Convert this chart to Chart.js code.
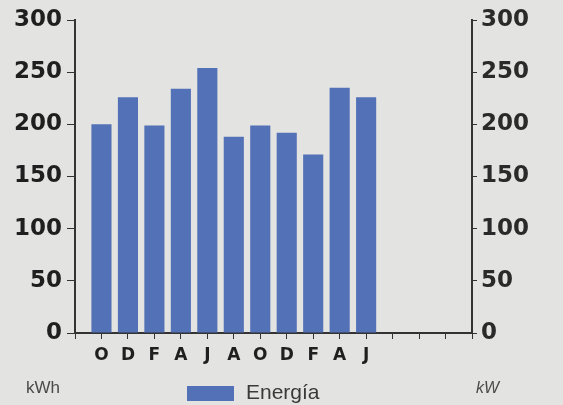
<!DOCTYPE html>
<html>
<head>
<meta charset="utf-8">
<script src="https://cdn.jsdelivr.net/npm/chart.js@4/dist/chart.umd.min.js"></script>
<style>
  html, body { margin: 0; padding: 0; background: #e3e3e1; }
  #wrap { position: relative; width: 563px; height: 405px; }
</style>
</head>
<body>
<div id="wrap"><canvas id="chart" width="563" height="405"></canvas></div>
<script>
  // months Oct .. Jun; first slot sits on the left axis, four empty slots at the end
  var months = ['', 'O', 'D', 'F', 'A', 'J', 'A', 'O', 'D', 'F', 'A', 'J', '', '', '', ''];
  var energia = [null, 200, 226, 199, 234, 254, 188, 199, 192, 171, 235, 226];
  var yTicks = [0, 50, 100, 150, 200, 250, 300];
  var leftUnit = 'kWh';
  var rightUnit = 'kW';

  var barColor = '#5371b6';
  var inkColor = '#1f1f1f';
  var axisColor = '#333333';

  // legend + unit captions under the plot
  var footerPlugin = {
    id: 'footer',
    afterDraw: function (chart) {
      var ctx = chart.ctx;
      var ds = chart.data.datasets[0];
      ctx.save();
      ctx.textBaseline = 'middle';
      ctx.textAlign = 'left';
      ctx.fillStyle = '#4a4a4a';
      ctx.font = '17px "Liberation Sans", Arial, sans-serif';
      ctx.fillText(leftUnit, 26, 388);
      ctx.font = 'italic 16px "Liberation Sans", Arial, sans-serif';
      ctx.fillText(rightUnit, 476, 389);

      ctx.fillStyle = ds.backgroundColor;
      ctx.fillRect(187, 386, 47, 15);
      ctx.fillStyle = '#3a3a3a';
      ctx.font = '21px "Liberation Sans", Arial, sans-serif';
      ctx.fillText(ds.label, 246, 393);
      ctx.restore();
    }
  };

  var tickFont = { family: '"DejaVu Sans", sans-serif', weight: 'bold', size: 23 };

  new Chart(document.getElementById('chart'), {
    type: 'bar',
    data: {
      labels: months,
      datasets: [{
        label: 'Energía',
        data: energia,
        backgroundColor: barColor,
        barPercentage: 0.76,
        categoryPercentage: 1.0
      }]
    },
    options: {
      responsive: false,
      animation: false,
      layout: { padding: { top: 20, bottom: 0, left: 0, right: 0 } },
      plugins: {
        legend: { display: false },
        tooltip: { enabled: false }
      },
      scales: {
        x: {
          offset: false,
          grid: { offset: false, drawOnChartArea: false, color: axisColor, tickLength: 6 },
          border: { color: axisColor, width: 2 },
          ticks: {
            color: inkColor,
            padding: 6,
            maxRotation: 0,
            autoSkip: false,
            font: { family: '"DejaVu Sans", sans-serif', weight: 'bold', size: 17 }
          },
          afterFit: function (s) { s.height = 72; }
        },
        y: {
          position: 'left',
          min: 0,
          max: 300,
          afterBuildTicks: function (s) { s.ticks = yTicks.map(function (v) { return { value: v }; }); },
          grid: { drawOnChartArea: false, color: axisColor, tickLength: 8 },
          border: { color: axisColor, width: 2 },
          ticks: { color: inkColor, padding: 5, font: tickFont },
          afterFit: function (s) { s.width = 75; }
        },
        y1: {
          position: 'right',
          min: 0,
          max: 300,
          afterBuildTicks: function (s) { s.ticks = yTicks.map(function (v) { return { value: v }; }); },
          grid: { drawOnChartArea: false, color: axisColor, tickLength: 5 },
          border: { color: axisColor, width: 2 },
          ticks: { color: '#2a2a2a', padding: 4, font: tickFont },
          afterFit: function (s) { s.width = 91; }
        }
      }
    },
    plugins: [footerPlugin]
  });
</script>
</body>
</html>
